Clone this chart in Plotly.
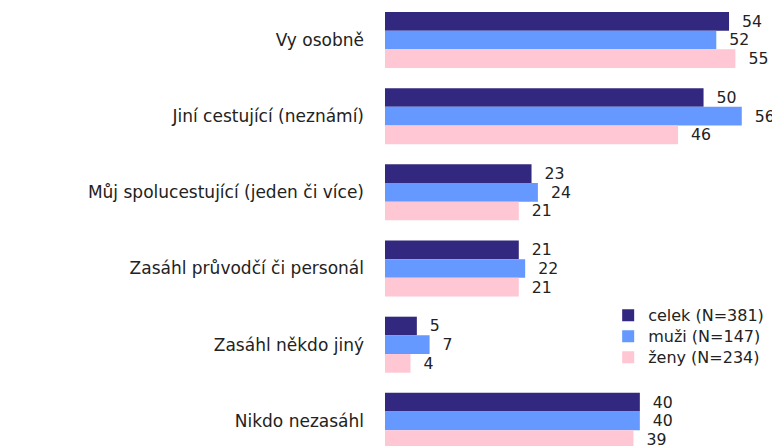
import plotly.graph_objects as go

categories = ["Vy osobně", "Jiní cestující (neznámí)", "Můj spolucestující (jeden či více)",
              "Zasáhl průvodčí či personál", "Zasáhl někdo jiný", "Nikdo nezasáhl"]
series_names = ["celek (N=381)", "muži (N=147)", "ženy (N=234)"]
celek = [54, 50, 23, 21, 5, 40]
muzi = [52, 56, 24, 22, 7, 40]
zeny = [55, 46, 21, 21, 4, 39]
colors = ["#33287f", "#6699ff", "#ffc6d4"]

FONT = "DejaVu Sans, Arial"
legend_ids = ["legend", "legend2", "legend3"]
legend_y = [0.3372, 0.2893, 0.2413]

fig = go.Figure()
for name, vals, col, lid in zip(series_names, [celek, muzi, zeny], colors, legend_ids):
    fig.add_trace(go.Bar(
        y=categories, x=vals, name=name, orientation="h",
        marker=dict(color=col, line=dict(width=0)),
        text=[f"  {v}" for v in vals], textposition="outside",
        textfont=dict(family=FONT, size=16, color="#222222"),
        cliponaxis=False, legend=lid,
    ))

legend_common = dict(x=0.565, xanchor="left", yanchor="top",
                     font=dict(size=16), itemwidth=30, bgcolor="rgba(0,0,0,0)")

fig.update_layout(
    width=772, height=438,
    margin=dict(l=377, r=0, t=0, b=0, autoexpand=False),
    barmode="group", bargap=0.265, bargroupgap=0,
    plot_bgcolor="white", paper_bgcolor="white",
    font=dict(family=FONT, size=17, color="#222222"),
    xaxis=dict(range=[0, 62], visible=False, automargin=False),
    yaxis=dict(range=[5.33, -0.42], showgrid=False, showline=False, ticks="",
               automargin=False, ticklabelstandoff=20, tickfont=dict(size=17)),
    legend=dict(y=legend_y[0], **legend_common),
    legend2=dict(y=legend_y[1], **legend_common),
    legend3=dict(y=legend_y[2], **legend_common),
    showlegend=True,
)
fig.write_html("out.html")
